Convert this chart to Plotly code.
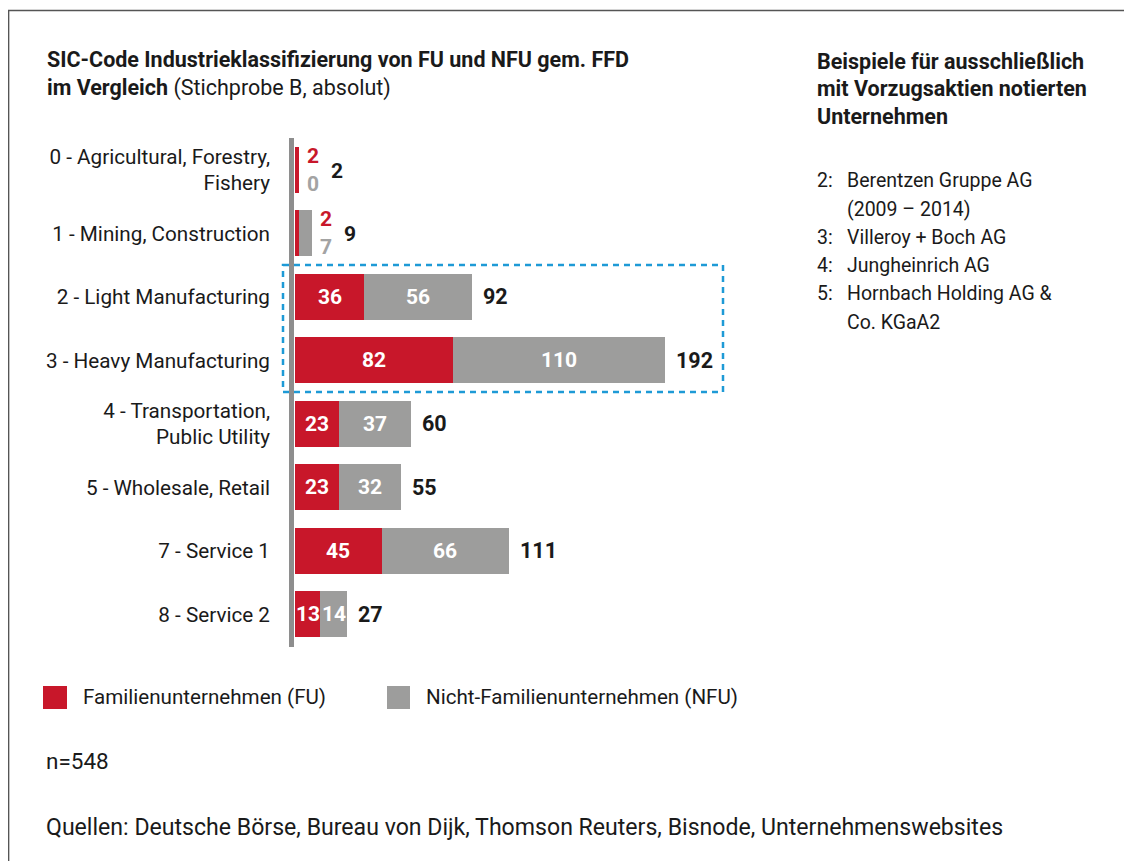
import plotly.graph_objects as go

categories = [
    "0 - Agricultural, Forestry,<br>Fishery",
    "1 - Mining, Construction",
    "2 - Light Manufacturing",
    "3 - Heavy Manufacturing",
    "4 - Transportation,<br>Public Utility",
    "5 - Wholesale, Retail",
    "7 - Service 1",
    "8 - Service 2",
]
fu_values = [2, 2, 36, 82, 23, 23, 45, 13]
nfu_values = [0, 7, 56, 110, 37, 32, 66, 14]
totals = [2, 9, 92, 192, 60, 55, 111, 27]

legend_labels = ["Familienunternehmen (FU)", "Nicht-Familienunternehmen (NFU)"]
title_line1 = "SIC-Code Industrieklassifizierung von FU und NFU gem. FFD"
title_line2_bold = "im Vergleich"
title_line2_rest = " (Stichprobe B, absolut)"
side_title = ["Beispiele für ausschließlich", "mit Vorzugsaktien notierten", "Unternehmen"]
side_items = [
    ("2:", "Berentzen Gruppe AG"),
    ("", "(2009 – 2014)"),
    ("3:", "Villeroy + Boch AG"),
    ("4:", "Jungheinrich AG"),
    ("5:", "Hornbach Holding AG &"),
    ("", "Co. KGaA2"),
]
n_text = "n=548"
source_text = "Quellen: Deutsche Börse, Bureau von Dijk, Thomson Reuters, Bisnode, Unternehmenswebsites"

RED = "#C8172A"
GREY = "#9D9D9C"
AXIS_GREY = "#8E8E8E"
BLUE = "#1E9AD6"
TXT = "#1A1A1A"
FONT = "Roboto"

OFF = 8  # page body margin
W, H = 1132 - OFF, 861 - OFF
# plot area in page pixel coordinates
L, R, T, B = 295, 790, 138, 646
XMAX = 257

def px(x):
    return (x - L) / (R - L)

def py(y):
    return (B - y) / (B - T)

fig = go.Figure()
fig.add_trace(go.Bar(y=categories, x=fu_values, orientation="h", marker=dict(color=RED, line=dict(width=0)),
                     name=legend_labels[0], showlegend=False, hoverinfo="x"))
fig.add_trace(go.Bar(y=categories, x=nfu_values, orientation="h", marker=dict(color=GREY, line=dict(width=0)),
                     name=legend_labels[1], showlegend=False, hoverinfo="x"))

NUM = 21
ann = []
for i, cat in enumerate(categories):
    fu, nfu, tot = fu_values[i], nfu_values[i], totals[i]
    if tot < 15:
        ann.append(dict(x=tot, y=cat, xref="x", yref="y", text=f"<b>{fu}</b>", showarrow=False,
                        xanchor="center", yanchor="middle", xshift=14, yshift=14,
                        font=dict(family=FONT, size=NUM, color=RED)))
        ann.append(dict(x=tot, y=cat, xref="x", yref="y", text=f"<b>{nfu}</b>", showarrow=False,
                        xanchor="center", yanchor="middle", xshift=14, yshift=-14,
                        font=dict(family=FONT, size=NUM, color="#A3A3A3")))
        ann.append(dict(x=tot, y=cat, xref="x", yref="y", text=f"<b>{tot}</b>", showarrow=False,
                        xanchor="center", yanchor="middle", xshift=38, yshift=-1,
                        font=dict(family=FONT, size=NUM, color=TXT)))
    else:
        ann.append(dict(x=fu / 2, y=cat, xref="x", yref="y", text=f"<b>{fu}</b>", showarrow=False,
                        xanchor="center", yanchor="middle",
                        font=dict(family=FONT, size=NUM, color="white")))
        ann.append(dict(x=fu + nfu / 2, y=cat, xref="x", yref="y", text=f"<b>{nfu}</b>", showarrow=False,
                        xanchor="center", yanchor="middle",
                        font=dict(family=FONT, size=NUM, color="white")))
        ann.append(dict(x=tot, y=cat, xref="x", yref="y", text=f"<b>{tot}</b>", showarrow=False,
                        xanchor="left", yanchor="middle", xshift=9,
                        font=dict(family=FONT, size=NUM + 0.5, color=TXT)))

def txt(x, y, text, size, bold=False):
    return dict(x=px(x), y=py(y), xref="paper", yref="paper", text=(f"<b>{text}</b>" if bold else text),
                showarrow=False, xanchor="left", yanchor="middle",
                font=dict(family=FONT, size=size, color=TXT))

ann.append(txt(45, 59, title_line1, 21.5, bold=True))
ann.append(dict(x=px(45), y=py(88), xref="paper", yref="paper",
                text=f"<b>{title_line2_bold}</b>{title_line2_rest}",
                showarrow=False, xanchor="left", yanchor="middle", font=dict(family=FONT, size=21.5, color=TXT)))
for k, line in enumerate(side_title):
    ann.append(txt(815, 61 + 27.5 * k, line, 21.5, bold=True))
for k, (num, t) in enumerate(side_items):
    yy = 181 + 28.2 * k
    if num:
        ann.append(txt(815, yy, num, 19.5))
    ann.append(txt(845, yy, t, 19.5))

ann.append(txt(81, 697, legend_labels[0], 20.6))
ann.append(txt(424, 697, legend_labels[1], 20.6))
ann.append(txt(44, 761, n_text, 22.5))
ann.append(txt(44, 827, source_text, 23.1))

shapes = [
    dict(type="rect", xref="paper", yref="paper", x0=px(43), x1=px(67), y0=py(686), y1=py(709),
         fillcolor=RED, line=dict(width=0)),
    dict(type="rect", xref="paper", yref="paper", x0=px(387), x1=px(410), y0=py(686), y1=py(709),
         fillcolor=GREY, line=dict(width=0)),
    dict(type="rect", xref="paper", yref="y", x0=px(283), x1=px(723), y0=1.5, y1=3.5,
         line=dict(color=BLUE, width=2.5, dash="6px,5px"), fillcolor="rgba(0,0,0,0)"),
    dict(type="line", xref="paper", yref="paper", x0=px(291.5), x1=px(291.5), y0=py(138), y1=py(647),
         line=dict(color=AXIS_GREY, width=5)),
    dict(type="line", xref="paper", yref="paper", x0=px(8.6), x1=px(8.6), y0=py(10), y1=py(900),
         line=dict(color="#555555", width=1.5)),
    dict(type="line", xref="paper", yref="paper", x0=px(8), x1=px(1200), y0=py(10.5), y1=py(10.5),
         line=dict(color="#555555", width=1.5)),
]

fig.update_layout(
    barmode="stack",
    bargap=0.276,
    width=W, height=H,
    margin=dict(l=L - OFF, r=W - (R - OFF), t=T - OFF, b=H - (B - OFF), pad=0),
    paper_bgcolor="white", plot_bgcolor="white",
    annotations=ann,
    shapes=shapes,
    showlegend=False,
    font=dict(family=FONT, color=TXT),
)
fig.update_xaxes(range=[0, XMAX], visible=False, fixedrange=True)
fig.update_yaxes(autorange="reversed", showgrid=False, zeroline=False, showline=False,
                 ticks="", ticklabelstandoff=24, tickfont=dict(family=FONT, size=20.7, color=TXT),
                 fixedrange=True)

fig.write_html("out.html")
